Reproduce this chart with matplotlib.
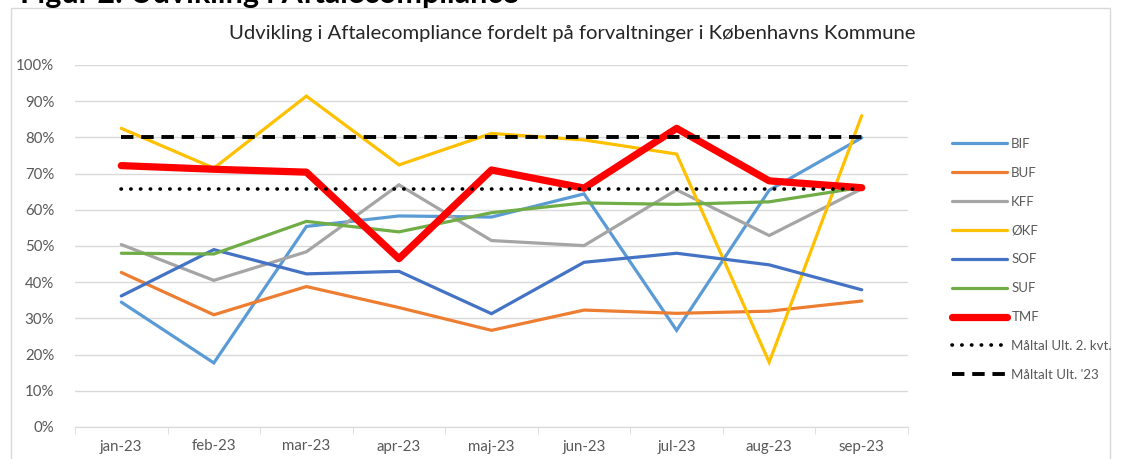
import matplotlib.pyplot as plt
from matplotlib.patches import Rectangle

plt.rcParams['font.family'] = ['Lato', 'DejaVu Sans']

months = ['jan-23', 'feb-23', 'mar-23', 'apr-23', 'maj-23', 'jun-23', 'jul-23', 'aug-23', 'sep-23']

bif = [34.5, 17.7, 55.4, 58.3, 58.0, 64.4, 26.7, 65.4, 79.9]
buf = [42.7, 31.0, 38.8, 33.0, 26.7, 32.3, 31.4, 32.0, 34.8]
kff = [50.4, 40.5, 48.4, 66.9, 51.5, 50.1, 65.5, 52.9, 65.8]
okf = [82.5, 71.5, 91.4, 72.4, 81.1, 79.3, 75.4, 17.9, 86.0]
sof = [36.2, 49.0, 42.3, 43.0, 31.3, 45.5, 48.0, 44.8, 37.9]
suf = [48.0, 47.8, 56.8, 53.9, 59.2, 61.9, 61.5, 62.2, 66.2]
tmf = [72.2, 71.2, 70.4, 46.5, 71.0, 66.0, 82.5, 68.0, 66.1]
maal_q2 = [65.8] * 9
maal_23 = [80.0] * 9

series = [
    ('BIF', bif, '#5B9BD5'),
    ('BUF', buf, '#ED7D31'),
    ('KFF', kff, '#A5A5A5'),
    ('ØKF', okf, '#FFC000'),
    ('SOF', sof, '#4472C4'),
    ('SUF', suf, '#70AD47'),
]

W, H = 1121, 459
fig = plt.figure(figsize=(W / 100, H / 100), dpi=100)

# outer chart frame
fig.patches.append(Rectangle((11 / W, -0.1), 1099 / W, (H - 8) / H + 0.1,
                             transform=fig.transFigure, fill=False,
                             edgecolor='#d9d9d9', linewidth=1))

# figure caption, cut off at the top just like the source screenshot
fig.text(20 / W, 1 - 2.5 / H, 'Figur 2: Udvikling i Aftalecompliance', fontsize=22,
         fontweight='bold', va='baseline', ha='left', color='black')

ax = fig.add_axes([75 / W, (H - 427) / H, 833 / W, 362 / H])
x = list(range(len(months)))

for name, vals, color in series:
    ax.plot(x, [v / 100 for v in vals], color=color, linewidth=2.3, label=name,
            solid_capstyle='round', solid_joinstyle='miter')
ax.plot(x, [v / 100 for v in tmf], color='#FF0000', linewidth=5.2, label='TMF',
        solid_capstyle='round')
ax.plot(x, [v / 100 for v in maal_q2], color='black', linewidth=2.6,
        linestyle=(0, (0.1, 2.6)), dash_capstyle='round', label='Måltal Ult. 2. kvt.')
ax.plot(x, [v / 100 for v in maal_23], color='black', linewidth=2.8,
        linestyle=(0, (3.2, 2)), label="Måltalt Ult. '23")

ax.set_xlim(-0.5, len(months) - 0.5)
ax.set_ylim(0, 1)
ax.set_yticks([i / 10 for i in range(11)])
ax.set_yticklabels([f'{i * 10}%' for i in range(11)])
ax.set_xticks(x)
ax.set_xticklabels(months)
ax.set_xticks([i + 0.5 for i in range(-1, len(months))], minor=True)
ax.tick_params(axis='x', which='major', length=0, pad=9)
ax.tick_params(axis='x', which='minor', length=5, color='#d9d9d9')
ax.tick_params(axis='y', length=0, pad=15)
ax.tick_params(labelsize=10.8, labelcolor='#595959')
ax.grid(axis='y', color='#d9d9d9', linewidth=1)
ax.set_axisbelow(True)
for s in ['top', 'right', 'left']:
    ax.spines[s].set_visible(False)
ax.spines['bottom'].set_color('#d9d9d9')

fig.text(572 / W, 1 - 33 / H, 'Udvikling i Aftalecompliance fordelt på forvaltninger i Københavns Kommune',
         ha='center', va='center', fontsize=14.6, color='#262626')

fig.legend(loc='upper left', bbox_to_anchor=(940 / W, 1 - 126 / H), frameon=False,
           fontsize=9.5, labelcolor='#595959', handlelength=4.2, labelspacing=1.28,
           handletextpad=0.3)

fig.savefig('out.png', dpi=100)
